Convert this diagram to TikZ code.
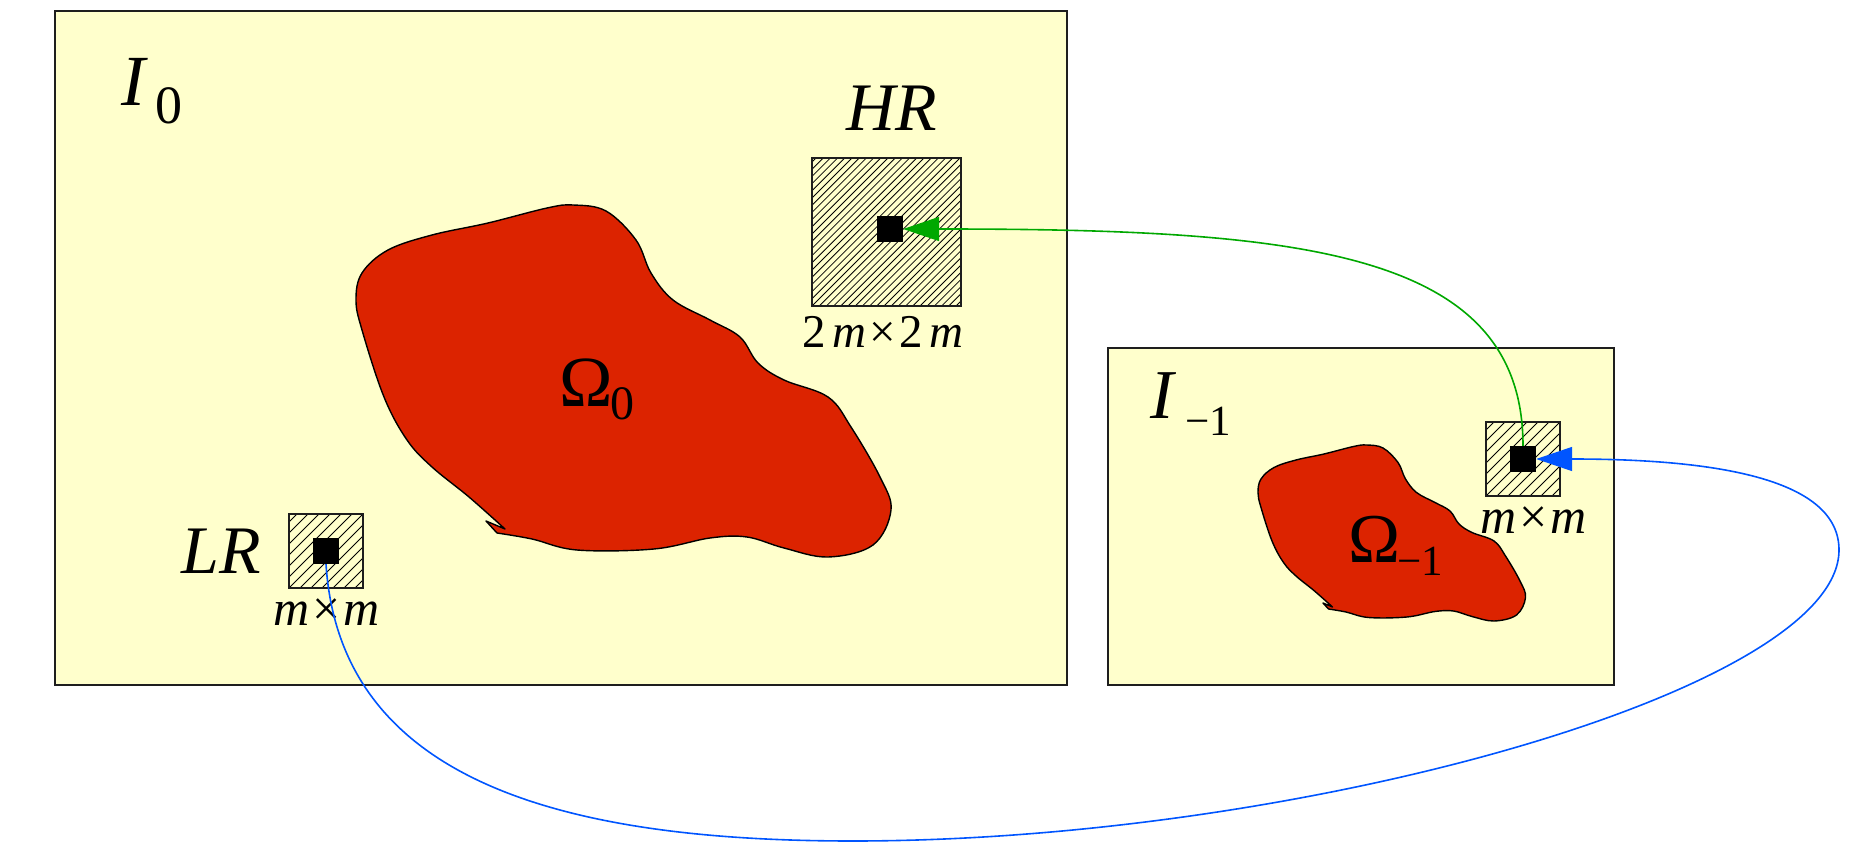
\documentclass[tikz,border=0pt]{standalone}
\usepackage{fontspec}
\setmainfont{Liberation Serif}
\usetikzlibrary{arrows.meta}
\definecolor{paper}{RGB}{255,255,204}
\definecolor{blobred}{RGB}{220,35,0}
\definecolor{arrgreen}{RGB}{0,168,0}
\definecolor{arrblue}{RGB}{0,85,255}
\definecolor{framecol}{RGB}{30,30,30}
\newcommand\drawmyblob{%
  \filldraw[blob] plot[smooth, tension=0.6] coordinates {
    (505,529) (469,497) (432,467) (407,440) (384,397) (362,330) (356,300)
    (362,273) (388,250) (432,235) (488,223) (547,208) (573,205) (606,211)
    (636,240) (651,273) (673,300) (710,320) (740,337) (758,363) (784,380)
    (828,397) (851,427) (880,477) (891,510) (873,545) (828,557) (784,548)
    (747,537) (710,538) (654,549) (577,550) (532,539) (497,533)}
    -- (486,521) -- cycle;}
\newcommand\hatchbox[2]{%
  \begin{scope}
    \clip (#1.south west) rectangle (#1.north east);
    \foreach \d in {-200,-190,...,200} {
      \draw[hatchline] ([xshift=#2*\d pt/10]#1.south west) -- ++(250pt,250pt);
    }
  \end{scope}
  \draw[line width=1.5pt, framecol] (#1.south west) rectangle (#1.north east);}
\begin{document}
\begin{tikzpicture}[x=1pt,y=-1pt,
  frame/.style={draw=framecol, line width=1.6pt, fill=paper, inner sep=0pt},
  hbox/.style={fill=paper, inner sep=0pt},
  dot/.style={fill=black, inner sep=0pt, minimum size=26pt},
  blob/.style={fill=blobred, draw=black, line width=1.4pt, line join=round},
  hatchline/.style={line width=0.8pt, black},
  lbl/.style={inner sep=0pt, anchor=base west},
  garrow/.style={draw=arrgreen, line width=1.6pt, -{Triangle[length=36pt,width=24pt]}},
  barrow/.style={draw=arrblue, line width=1.6pt, -{Triangle[length=36pt,width=24pt]}}]
\useasboundingbox (0,0) rectangle (1869,845);
% frames
\node[frame, minimum width=1012pt, minimum height=674pt] (F0) at (561,348) {};
\node[frame, minimum width=506pt, minimum height=337pt] (F1) at (1361,516.5) {};
% blobs
\drawmyblob
\begin{scope}[shift={(1080,342.5)}, scale=0.5]
\drawmyblob
\end{scope}
% hatched windows
\node[hbox, minimum width=149pt, minimum height=148pt] (HR) at (886.5,232) {};
\hatchbox{HR}{7.2}
\node[hbox, minimum size=74pt] (LRb) at (326,551) {};
\hatchbox{LRb}{11}
\node[hbox, minimum size=74pt] (Sb) at (1523,459) {};
\hatchbox{Sb}{11}
\node[dot] (sqHR) at (890,229) {};
\node[dot] (sqLR) at (326,551) {};
\node[dot] (sqS) at (1523,459) {};
% labels
\node[lbl] (tI0) at (121,106) {\fontsize{72}{72}\selectfont\textit{I}\kern8pt\raisebox{-18pt}{\fontsize{54}{54}\selectfont 0}};
\node[lbl] (tI1) at (1150,418) {\fontsize{70}{70}\selectfont\textit{I}\kern9pt\raisebox{-17pt}{\fontsize{43}{43}\selectfont −1}};
\node[lbl] (tHR) at (846,131) {\fontsize{68}{68}\selectfont\itshape HR};
\node[lbl] (tLR) at (181,573) {\fontsize{68}{68}\selectfont\itshape LR};
\node[lbl] (tHRs) at (802,347) {\fontsize{47}{47}\selectfont 2\kern7pt\textit{m}\kern3pt×\kern3pt2\kern7pt\textit{m}};
\node[lbl] (tLRs) at (273,625) {\fontsize{50}{50}\selectfont\textit{m}\kern3pt×\kern3pt\textit{m}};
\node[lbl] (tSs) at (1480,533) {\fontsize{50}{50}\selectfont\textit{m}\kern3pt×\kern3pt\textit{m}};
\node[lbl] (tO0) at (559,406) {\fontsize{72}{72}\selectfont Ω\kern-2pt\raisebox{-13pt}{\fontsize{48}{48}\selectfont 0}};
\node[lbl] (tO1) at (1348,562) {\fontsize{70}{70}\selectfont Ω\kern-3pt\raisebox{-13pt}{\fontsize{43}{43}\selectfont −1}};
% connectors
\coordinate (bb) at (853,841);
\coordinate (bc) at (1839,550);
\draw[garrow] (sqS.north) .. controls (1523,250) and (1300,229) .. (sqHR.east);
\draw[barrow] (sqLR.south) .. controls (340,780) and (560,841) .. (bb)
  .. controls (1300,841) and (1839,690) .. (bc)
  .. controls (1839,480) and (1720,459) .. (sqS.east);
\end{tikzpicture}
\end{document}
